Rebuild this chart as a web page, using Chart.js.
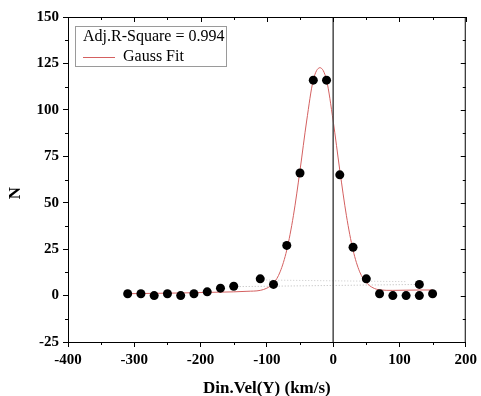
<!DOCTYPE html>
<html>
<head>
<meta charset="utf-8">
<script src="https://cdn.jsdelivr.net/npm/chart.js@4/dist/chart.umd.min.js"></script>
<style>
  html, body { margin: 0; padding: 0; background: #fff; }
  #wrap { width: 481px; height: 396px; }
</style>
</head>
<body>
<div id="wrap"><canvas id="c" width="481" height="396"></canvas></div>
<script>
// ---- data ----
const velX   = [-310,-290,-270,-250,-230,-210,-190,-170,-150,-110,-90,-70,-50,-30,-10,10,30,50,70,90,110,130,130,150];
const countN = [1,1,0,1,0,1,2,4,5,9,6,27,66,116,116,65,26,9,1,0,0,0,6,1];

const fitX = [-310,-270,-230,-190,-150,-130,-110,-100,-90,-80,-70,-60,-50,-40,-30,-20,-10,0,10,20,30,40,50,60,70,90,110,130,150];
const fitY = [1.0,1.2,1.4,1.7,2.0,2.3,2.8,4.0,6.6,12.8,24.5,43,67.5,94,116,122.7,116,94,67.5,43,24.5,12.8,7,4.2,3.1,2.8,2.9,3.0,3.0];

const dotLowX = [-150,130];
const dotLowY = [4.8,6.0];
const dotHighX = [-110,110];
const dotHighY = [8.4,7.5];

const zeroX = [0,0];
const zeroY = [-25,150];

const xTicks = [-400,-300,-200,-100,0,100,200];
const yTicks = [-25,0,25,50,75,100,125,150];

const legendTitle = 'Adj.R-Square = 0.994';
const legendFit = 'Gauss Fit';
const xTitle = 'Din.Vel(Y) (km/s)';
const yTitle = 'N';

const toPts = (xs, ys) => xs.map((x, i) => ({ x: x, y: ys[i] }));
const SERIF = "'Liberation Serif', 'Times New Roman', serif";

const framePlugin = {
  id: 'frame',
  afterDatasetsDraw(chart) {
    const ctx = chart.ctx;
    const a = chart.chartArea;
    const xs = chart.scales.x, ys = chart.scales.y;
    ctx.save();
    ctx.strokeStyle = '#000';
    ctx.lineWidth = 1;
    // top and right frame
    ctx.beginPath();
    ctx.moveTo(a.left, a.top + 0.5); ctx.lineTo(a.right, a.top + 0.5);
    ctx.moveTo(a.right - 0.5, a.top); ctx.lineTo(a.right - 0.5, a.bottom);
    ctx.stroke();
    ctx.beginPath();
    // x ticks: top inward, bottom minor outward
    for (let v = xs.min; v <= xs.max + 1e-9; v += 50) {
      const px = Math.round(xs.getPixelForValue(v)) + 0.5;
      const major = Math.abs(v % 100) < 1e-9;
      const L = major ? 5 : 3;
      ctx.moveTo(px, a.top); ctx.lineTo(px, a.top + L);
      if (!major) { ctx.moveTo(px, a.bottom); ctx.lineTo(px, a.bottom + 3); }
    }
    // y ticks: right inward, left minor outward
    for (let v = ys.min; v <= ys.max + 1e-9; v += 12.5) {
      const py = Math.round(ys.getPixelForValue(v)) + 0.5;
      const major = Math.abs(v % 25) < 1e-9;
      const L = major ? 5 : 3;
      ctx.moveTo(a.right, py); ctx.lineTo(a.right - L, py);
      if (!major) { ctx.moveTo(a.left, py); ctx.lineTo(a.left - 3, py); }
    }
    ctx.stroke();

    // y axis title
    ctx.fillStyle = '#000';
    ctx.font = 'bold 17px ' + SERIF;
    ctx.textAlign = 'center';
    ctx.textBaseline = 'middle';
    ctx.save();
    ctx.translate(16, 193);
    ctx.rotate(-Math.PI / 2);
    ctx.fillText(yTitle, 0, 0);
    ctx.restore();

    // legend box
    const bx = 75, by = 26, bw = 151, bh = 40;
    ctx.fillStyle = '#fff';
    ctx.fillRect(bx, by, bw, bh);
    ctx.strokeStyle = '#9a9a9a';
    ctx.strokeRect(bx + 0.5, by + 0.5, bw, bh);
    ctx.fillStyle = '#000';
    ctx.font = '16px ' + SERIF;
    ctx.textBaseline = 'middle';
    ctx.textAlign = 'left';
    ctx.fillText(legendTitle, 83, 37);
    ctx.fillText(legendFit, 123, 57);
    ctx.strokeStyle = '#d46060';
    ctx.beginPath();
    ctx.moveTo(83, 57.5); ctx.lineTo(115, 57.5);
    ctx.stroke();
    ctx.restore();
  }
};

new Chart(document.getElementById('c'), {
  type: 'scatter',
  data: {
    datasets: [
      {
        label: 'Points', data: toPts(velX, countN), showLine: false,
        pointRadius: 4.5, pointHoverRadius: 4.5,
        backgroundColor: '#000', borderColor: '#000', pointBorderWidth: 0, order: 0
      },
      {
        label: 'Gauss Fit', data: toPts(fitX, fitY), showLine: true,
        borderColor: '#d46060', borderWidth: 1, pointRadius: 0,
        cubicInterpolationMode: 'monotone', order: 2
      },
      {
        label: 'base1', data: toPts(dotLowX, dotLowY), showLine: true,
        borderColor: '#b8b8b8', borderWidth: 1, borderDash: [1, 2], pointRadius: 0, order: 3
      },
      {
        label: 'base2', data: toPts(dotHighX, dotHighY), showLine: true,
        borderColor: '#c8c8c8', borderWidth: 1, borderDash: [1, 2], pointRadius: 0, order: 3
      },
      {
        label: 'zero', data: toPts(zeroX, zeroY), showLine: true,
        borderColor: '#4a4a4a', borderWidth: 1.5, pointRadius: 0, order: 1
      }
    ]
  },
  options: {
    responsive: false,
    animation: false,
    events: [],
    layout: { padding: { top: 17, right: 13, left: 0, bottom: 0 } },
    plugins: { legend: { display: false }, tooltip: { enabled: false } },
    scales: {
      x: {
        type: 'linear', min: -400, max: 200,
        afterFit: s => { s.height = 54; },
        afterBuildTicks: s => { s.ticks = xTicks.map(v => ({ value: v })); },
        ticks: { color: '#000', padding: 4, maxRotation: 0, font: { family: SERIF, size: 15, weight: 'bold' } },
        grid: { display: true, drawOnChartArea: false, drawTicks: true, tickLength: 5, color: '#000', lineWidth: 1 },
        border: { display: true, color: '#000', width: 1 },
        title: { display: true, text: xTitle, color: '#000', padding: { top: 0, bottom: -3 }, font: { family: SERIF, size: 17, weight: 'bold' } }
      },
      y: {
        type: 'linear', min: -25, max: 150,
        afterFit: s => { s.width = 68; },
        afterBuildTicks: s => { s.ticks = yTicks.map(v => ({ value: v })); },
        ticks: { color: '#000', padding: 4, font: { family: SERIF, size: 15, weight: 'bold' } },
        grid: { display: true, drawOnChartArea: false, drawTicks: true, tickLength: 5, color: '#000', lineWidth: 1 },
        border: { display: true, color: '#000', width: 1 },
        title: { display: false }
      }
    }
  },
  plugins: [framePlugin]
});
</script>
</body>
</html>
